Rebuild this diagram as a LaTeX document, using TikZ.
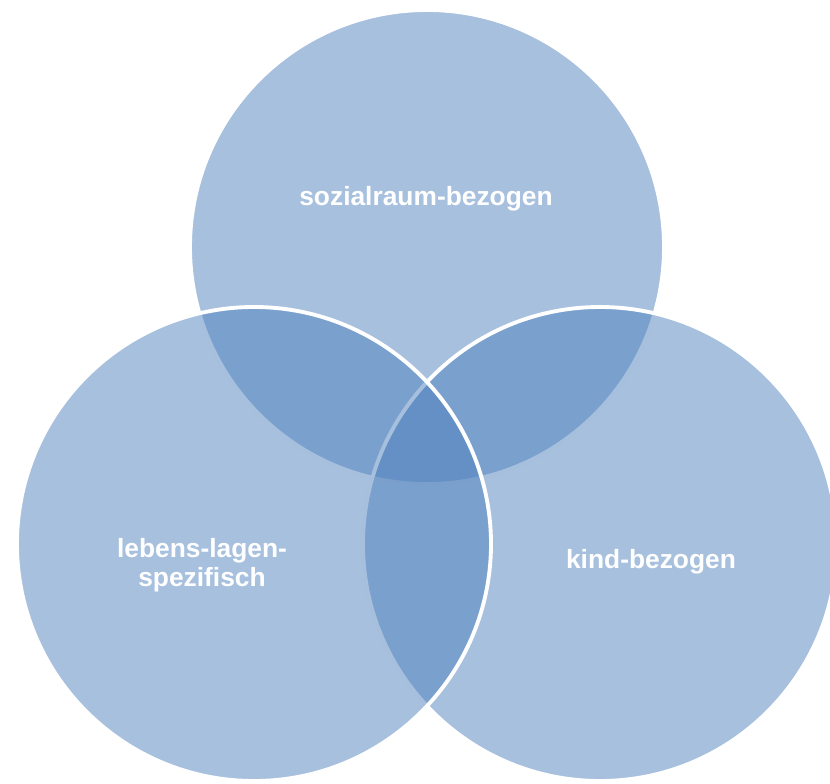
\documentclass[tikz,border=0pt]{standalone}
\usepackage{fontspec}
\setmainfont{Liberation Sans}
\definecolor{kreisblau}{HTML}{4F81BD}
\begin{document}
\begin{tikzpicture}[
    kreis/.style={fill=kreisblau, fill opacity=0.5, draw=white, draw opacity=1, line width=2.2pt},
    etikett/.style={text=white, align=center, font=\fontsize{15}{16.4}\selectfont\bfseries}
  ]
            \useasboundingbox (0,0) rectangle (16.6,-15.68); % page frame

            % circles: top first, then right, then left
            \draw[kreis] (8.54,-4.94) circle (4.74);
            \draw[kreis] (12.0,-10.88) circle (4.74);
            \draw[kreis] (5.08,-10.88) circle (4.74);

            \node[etikett] (sozial) at (8.52,-3.98) {sozialraum-bezogen};
            \node[etikett] (lebens) at (4.04,-11.3) {lebens-lagen-\\spezifisch};
            \node[etikett] (kind) at (13.02,-11.24) {kind-bezogen};
        \end{tikzpicture}
\end{document}
